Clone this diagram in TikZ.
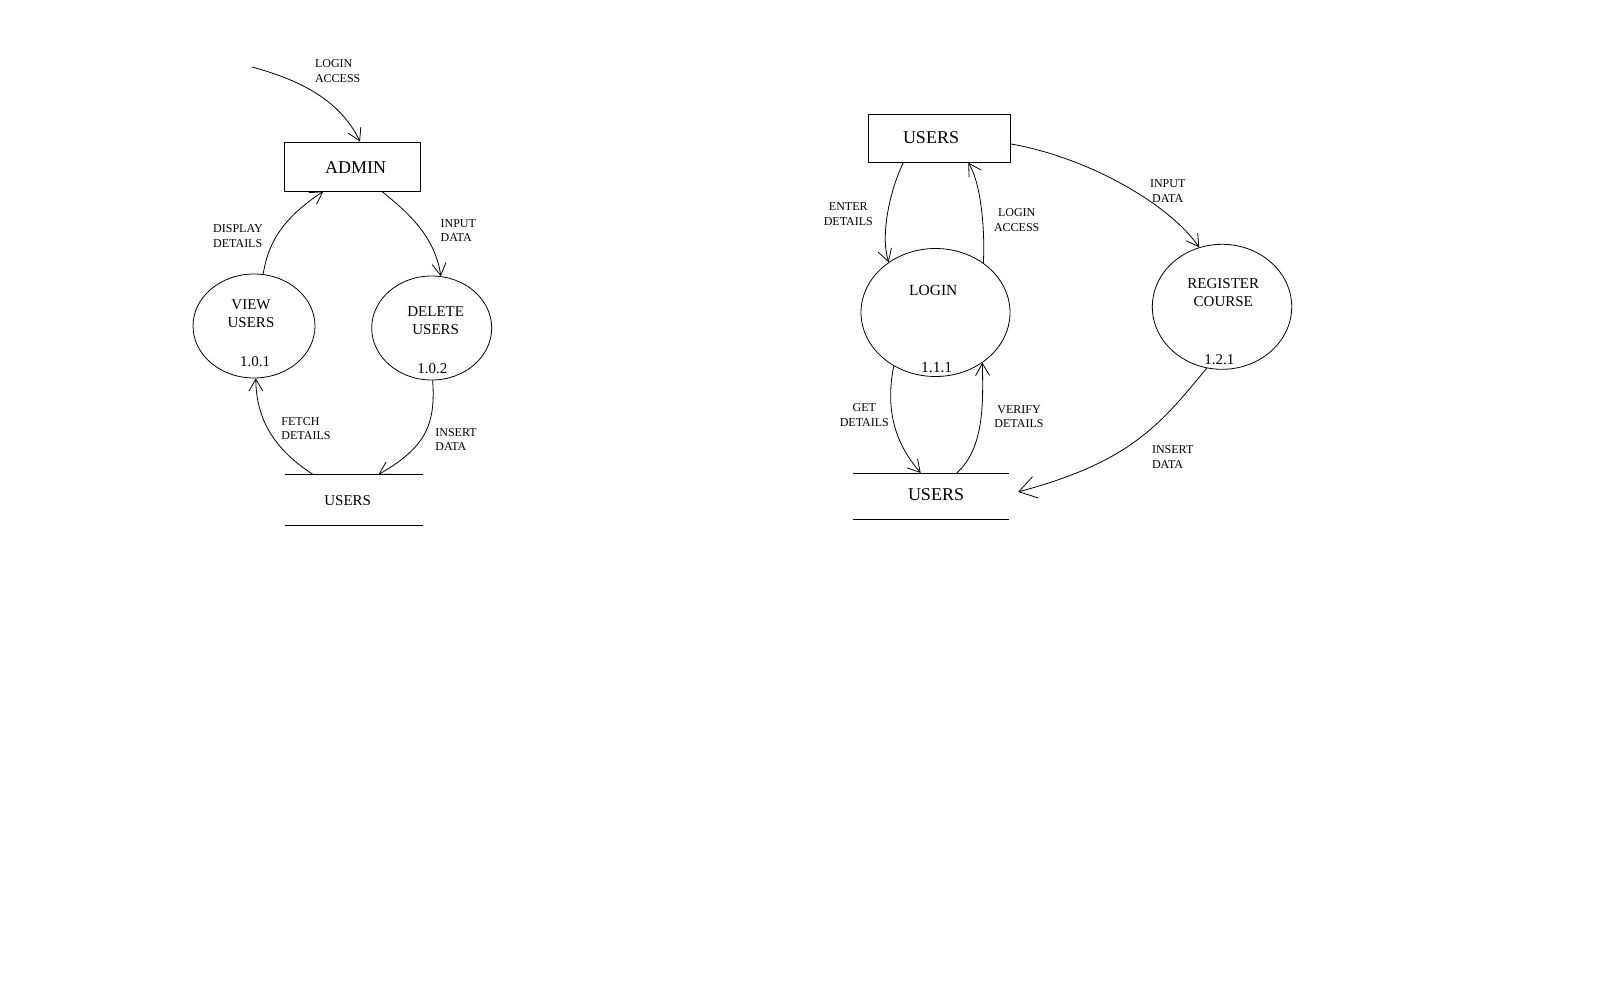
\documentclass[tikz,border=0pt]{standalone}
\usepackage{fontspec}
\setmainfont{Liberation Serif}
\usetikzlibrary{shapes.geometric,arrows.meta}

\begin{document}
\begin{tikzpicture}[x=1pt,y=-1pt,line width=0.8pt,
  >={Straight Barb[length=12pt,width=14pt]},
  flow/.style={->},
  bigflow/.style={-{Straight Barb[length=17pt,width=22pt]}},
  lbl/.style={font=\fontsize{12}{14.5}\selectfont,align=left,inner sep=0pt},
  lblc/.style={lbl,align=center},
  entity/.style={draw,rectangle,inner sep=0pt},
  proc/.style={draw,ellipse,inner sep=0pt},
  store/.style={inner sep=0pt},
  ptxt/.style={font=\fontsize{15}{18}\selectfont,align=center,inner sep=0pt},
  big/.style={font=\fontsize{18}{21}\selectfont,inner sep=0pt}]
  \useasboundingbox (0,0) rectangle (1600,1000);
  % admin side
  \node[entity,minimum width=136pt,minimum height=49pt] (admin) at (352,166.5) {};
  \node[big] (admintxt) at (355.7,168) {ADMIN};
  \node[proc,minimum width=122pt,minimum height=104pt] (viewusr) at (254,326) {};
  \node[ptxt] (viewtxt) at (251,314) {VIEW\\USERS};
  \node[ptxt] (viewnum) at (255,362) {1.0.1};
  \node[proc,minimum width=120pt,minimum height=104pt] (delusr) at (431.7,328) {};
  \node[ptxt] (deltxt) at (435.7,321) {DELETE\\USERS};
  \node[ptxt] (delnum) at (432.3,368.3) {1.0.2};
  \node[store,minimum width=138pt,minimum height=50pt] (usrstore) at (354,500) {};
  \node[ptxt] (usrstoretxt) at (347.7,500.7) {USERS};
  \draw (usrstore.north west) -- (usrstore.north east);
  \draw (usrstore.south west) -- (usrstore.south east);
  \coordinate (loginin) at (252,67);
  \draw[flow] (loginin) .. controls (300,80) and (340,100) .. ([xshift=8pt]admin.north);
  \draw[flow] (viewusr.80.6) .. controls (268,245) and (280,220) .. ([xshift=-28.7pt]admin.south);
  \draw[flow] ([xshift=29.7pt]admin.south) .. controls (405,210) and (435,235) .. (delusr.80.8);
  \draw[flow] ([xshift=-40.7pt]usrstore.north) .. controls (275,450) and (256,420) .. (viewusr.272.9);
  \draw[flow] (delusr.271.4) .. controls (436,425) and (425,448) .. ([xshift=24.3pt]usrstore.north);
  \node[lbl] (loginacc) at (337.7,71) {LOGIN\\ACCESS};
  \node[lbl] (dispdet) at (238,236) {DISPLAY\\DETAILS};
  \node[lbl] (inpdata) at (458.3,230.5) {INPUT\\DATA};
  \node[lbl] (fetchdet) at (306,428.5) {FETCH\\DETAILS};
  \node[lbl] (insdata) at (456,439.5) {INSERT\\DATA};
  % user side
  \node[entity,minimum width=142.4pt,minimum height=48pt] (usrbox) at (939.5,138.3) {};
  \node[big] (usrboxtxt) at (931,137.7) {USERS};
  \node[proc,minimum width=149pt,minimum height=128pt] (login) at (935.5,312.5) {};
  \node[ptxt,font=\fontsize{15.5}{18}\selectfont] (logintxt) at (933.3,290.7) {LOGIN};
  \node[ptxt,font=\fontsize{15.5}{18}\selectfont] (loginnum) at (936.7,367.7) {1.1.1};
  \node[proc,minimum width=139.4pt,minimum height=125pt] (regcourse) at (1222,306.8) {};
  \node[ptxt] (regtxt) at (1223.3,292.5) {REGISTER\\COURSE};
  \node[ptxt] (regnum) at (1219.3,359.3) {1.2.1};
  \node[store,minimum width=155.7pt,minimum height=45.7pt] (usrstoreb) at (931.2,496.2) {};
  \node[big] (usrstorebtxt) at (936,495) {USERS};
  \draw (usrstoreb.north west) -- (usrstoreb.north east);
  \draw (usrstoreb.south west) -- (usrstoreb.south east);
  \draw[flow] ([xshift=-36.2pt]usrbox.south) .. controls (890,190) and (880,235) .. (login.133.2);
  \draw[flow] (login.46.4) .. controls (985,235) and (982,185) .. ([xshift=28.8pt]usrbox.south);
  \draw[flow] ([yshift=-5.7pt]usrbox.east) .. controls (1090,158) and (1170,205) .. (regcourse.111);
  \draw[bigflow] (regcourse.256) .. controls (1160,425) and (1130,462) .. ([xshift=8.7pt,yshift=4.3pt]usrstoreb.east);
  \draw[flow] (login.232.8) .. controls (886,405) and (892,440) .. ([xshift=-10.5pt]usrstoreb.north);
  \draw[flow] ([xshift=25.5pt]usrstoreb.north) .. controls (985,448) and (983,400) .. (login.313.5);
  \node[lblc] (enterdet) at (848.3,214) {ENTER\\DETAILS};
  \node[lblc] (loginaccb) at (1016.7,220) {LOGIN\\ACCESS};
  \node[lblc] (inpdatab) at (1167.7,191) {INPUT\\DATA};
  \node[lbl] (insdatab) at (1172.7,457) {INSERT\\DATA};
  \node[lblc] (getdet) at (864.3,415) {GET\\DETAILS};
  \node[lblc] (verifydet) at (1019,416.7) {VERIFY\\DETAILS};
\end{tikzpicture}
\end{document}
